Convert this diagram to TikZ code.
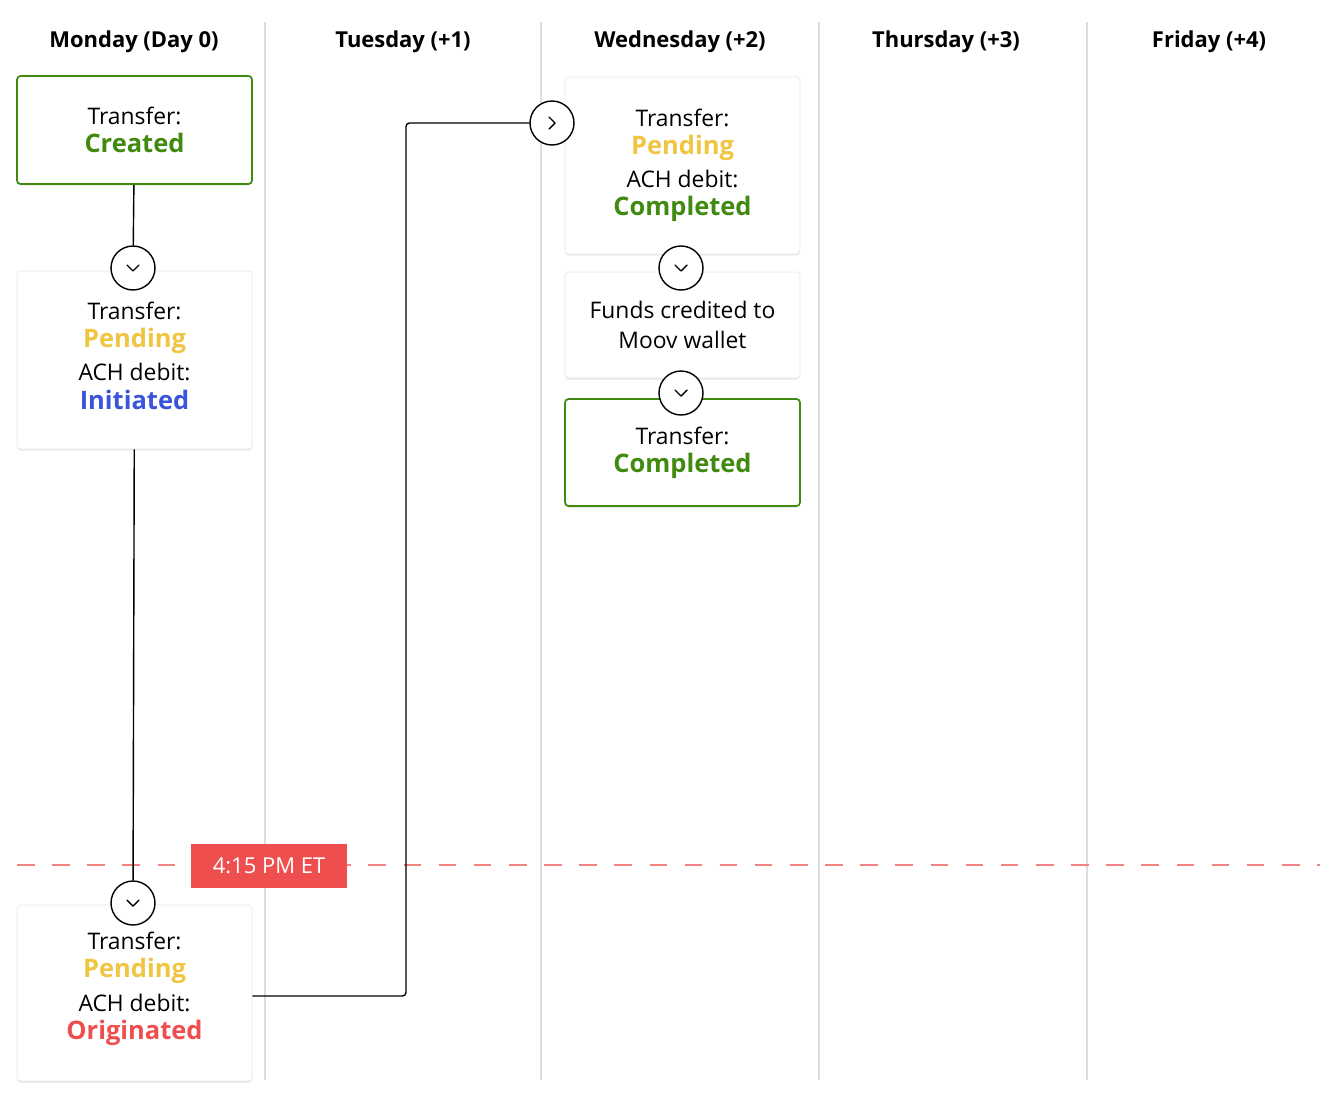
\documentclass[tikz,border=0pt]{standalone}
\usepackage{fontspec}
\setmainfont{Open Sans}
\usetikzlibrary{positioning,shadows}
\definecolor{okgreen}{HTML}{3F8A0F}
\definecolor{pendyellow}{HTML}{F0C541}
\definecolor{initblue}{HTML}{3A55D9}
\definecolor{cutred}{HTML}{EE4E4E}
\definecolor{sepgray}{HTML}{DDDDDD}
\newcommand{\status}[2]{{\color{#1}\fontsize{14.5}{17}\selectfont\bfseries #2}}
\begin{document}
\begin{tikzpicture}[x=0.02cm,y=-0.02cm,
    card/.style={draw=sepgray!70,fill=white,rounded corners=2pt,minimum width=4.7cm,
      align=center,font=\fontsize{13}{15}\selectfont,
      drop shadow={shadow xshift=0pt,shadow yshift=-1pt,opacity=0.15}},
    done/.style={card,draw=okgreen,line width=1pt},
    stepmark/.style={circle,draw,fill=white,thick,minimum size=0.88cm,inner sep=0pt},
    head/.style={font=\fontsize{12.5}{15}\selectfont\bfseries},
    link/.style={thick,rounded corners=2pt}]
    \useasboundingbox (0,0) rectangle (1336,1102);

    % day separators
    \foreach \x in {265,541,819,1087}
        \draw[sepgray,line width=1pt] (\x,22) -- (\x,1080);

    % days
    \node[head] at (134,42) {Monday (Day 0)};
    \node[head] at (403,42) {Tuesday (+1)};
    \node[head] at (680,42) {Wednesday (+2)};
    \node[head] at (946,42) {Thursday (+3)};
    \node[head] at (1209,42) {Friday (+4)};

    % cutoff
    \draw[cutred!70,dash pattern=on 10pt off 10pt,thick] (17,865) -- (1320,865);
    \node[fill=cutred,text=white,minimum width=3.12cm,minimum height=0.88cm,
      font=\fontsize{12.5}{15}\selectfont] (cutoff) at (269,866) {4:15 PM ET};

    % monday
    \node[done,minimum height=2.16cm] (created) at (134.5,130)
        {Transfer:\\[1pt]\status{okgreen}{Created}};
    \node[card,minimum height=3.56cm] (initiated) at (134.5,360)
        {\\[-10pt]Transfer:\\[1pt]\status{pendyellow}{Pending}\\[4pt]
         ACH debit:\\[1pt]\status{initblue}{Initiated}};
    \node[card,minimum height=3.52cm] (originated) at (134.5,993)
        {\\[-10pt]Transfer:\\[1pt]\status{pendyellow}{Pending}\\[4pt]
         ACH debit:\\[1pt]\status{cutred}{Originated}};
    \node[stepmark] (s1) at (133,268) {};
    \node[stepmark] (s2) at (133,903) {};

    % wednesday
    \node[card,minimum height=3.54cm] (debited) at (682.5,165.5)
        {Transfer:\\[1pt]\status{pendyellow}{Pending}\\[4pt]
         ACH debit:\\[1pt]\status{okgreen}{Completed}};
    \node[card,minimum height=2.12cm] (credited) at (682.5,325)
        {Funds credited to\\[2pt]Moov wallet};
    \node[done,minimum height=2.14cm] (completed) at (682.5,452.5)
        {Transfer:\\[1pt]\status{okgreen}{Completed}};
    \node[stepmark] (s3) at (552,123) {};
    \node[stepmark] (s4) at (681,268) {};
    \node[stepmark] (s5) at (681,393) {};

    % connectors
    \coordinate (turn) at (406,996);
    \draw[link] (created) -- (s1);
    \draw[link] (initiated) -- (s2);
    \draw[link] (originated.east |- turn) -- (turn) |- (s3);

    % chevrons
    \foreach \s in {s1,s2,s4,s5}
        \draw[thick,line cap=round,line join=round] ([shift={(-6,-3)}]\s.center) -- ([shift={(0,3)}]\s.center) -- ([shift={(6,-3)}]\s.center);
    \draw[thick,line cap=round,line join=round] ([shift={(-3,-6)}]s3.center) -- ([shift={(3,0)}]s3.center) -- ([shift={(-3,6)}]s3.center);
\end{tikzpicture}
\end{document}
